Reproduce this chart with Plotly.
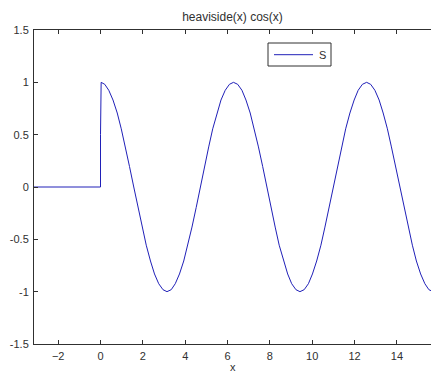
import plotly.graph_objects as go

# step part (heaviside(x) * cos(x) for x <= 0)
x_step = [-3.14, 0.0, 0.0]
y_step = [0.0, 0.0, 0.5]

x_wave = [0.03, 0.20, 0.39, 0.59, 0.79, 0.98, 1.18, 1.37, 1.57, 1.77, 1.96, 2.16, 2.36, 2.55, 2.75, 2.95,
          3.14, 3.34, 3.53, 3.73, 3.93, 4.12, 4.32, 4.52, 4.71, 4.91, 5.11, 5.30, 5.50, 5.69, 5.89, 6.09,
          6.28, 6.48, 6.68, 6.87, 7.07, 7.26, 7.46, 7.66, 7.85, 8.05, 8.25, 8.44, 8.64, 8.84, 9.03, 9.23,
          9.42, 9.62, 9.82, 10.01, 10.21, 10.41, 10.60, 10.80, 11.00, 11.19, 11.39, 11.58, 11.78, 11.98, 12.17, 12.37,
          12.57, 12.76, 12.96, 13.16, 13.35, 13.55, 13.74, 13.94, 14.14, 14.33, 14.53, 14.73, 14.92, 15.12, 15.32, 15.51,
          15.71]
y_wave = [1.0, 0.981, 0.924, 0.831, 0.707, 0.556, 0.383, 0.195, 0.0, -0.195, -0.383, -0.556, -0.707, -0.831, -0.924, -0.981,
          -1.0, -0.981, -0.924, -0.831, -0.707, -0.556, -0.383, -0.195, 0.0, 0.195, 0.383, 0.556, 0.707, 0.831, 0.924, 0.981,
          1.0, 0.981, 0.924, 0.831, 0.707, 0.556, 0.383, 0.195, 0.0, -0.195, -0.383, -0.556, -0.707, -0.831, -0.924, -0.981,
          -1.0, -0.981, -0.924, -0.831, -0.707, -0.556, -0.383, -0.195, 0.0, 0.195, 0.383, 0.556, 0.707, 0.831, 0.924, 0.981,
          1.0, 0.981, 0.924, 0.831, 0.707, 0.556, 0.383, 0.195, 0.0, -0.195, -0.383, -0.556, -0.707, -0.831, -0.924, -0.981,
          -1.0]

x_ticks = [-2, 0, 2, 4, 6, 8, 10, 12, 14]
y_ticks = [-1.5, -1, -0.5, 0, 0.5, 1, 1.5]
y_tick_text = ["-1.5", "-1", "-0.5", "0", "0.5", "1", "1.5"]

title_text = "heaviside(x) cos(x)"
x_label = "x"
series_name = "S"

line_color = "#2020b8"
axis_color = "#303030"
fam = "Liberation Sans, Arial, sans-serif"
font = dict(family=fam, size=11, color=axis_color)

fig = go.Figure()
fig.add_trace(go.Scatter(
    x=x_step + x_wave, y=y_step + y_wave, mode="lines", name=series_name,
    line=dict(color=line_color, width=1), showlegend=False,
))

# pixel -> paper helpers (plot area: x 34..431, y 30..344)
def px(xp):
    return (xp - 34) / 397

def py(yp):
    return (344 - yp) / 314

shapes = [
    # legend box
    dict(type="rect", xref="paper", yref="paper", x0=px(268), x1=px(331), y0=py(66), y1=py(43),
         line=dict(color=axis_color, width=1), fillcolor="white", layer="above"),
    # legend sample line
    dict(type="line", xref="paper", yref="paper", x0=px(274), x1=px(313), y0=py(54.7), y1=py(54.7),
         line=dict(color=line_color, width=1), layer="above"),
]

annotations = [
    dict(text=x_label, x=0.5, xref="paper", y=py(367), yref="paper",
         showarrow=False, font=font, xanchor="center", yanchor="middle"),
    dict(text=series_name, x=px(317), xref="paper", y=py(55), yref="paper",
         showarrow=False, font=font, xanchor="left", yanchor="middle"),
]

fig.update_layout(
    width=431, height=373,
    margin=dict(l=34, r=0, t=30, b=29),
    paper_bgcolor="white", plot_bgcolor="white",
    font=font,
    title=dict(text=title_text, x=0.5, xref="paper", xanchor="center",
               y=1 - 16.5 / 373, yref="container", yanchor="middle",
               font=dict(family=fam, size=12, color=axis_color)),
    showlegend=False,
    xaxis=dict(range=[-3.1416, 15.61], tickvals=x_ticks, ticks="inside", ticklen=4,
               tickcolor=axis_color, showline=True, linecolor=axis_color, linewidth=1,
               mirror="ticks", showgrid=False, zeroline=False, tickfont=font, ticklabelstandoff=2),
    yaxis=dict(range=[-1.5, 1.5], tickvals=y_ticks, ticktext=y_tick_text, ticks="inside", ticklen=4,
               tickcolor=axis_color, showline=True, linecolor=axis_color, linewidth=1,
               mirror=False, showgrid=False, zeroline=False, tickfont=font, ticklabelstandoff=2),
    shapes=shapes,
    annotations=annotations,
)

fig.write_html("out.html")
